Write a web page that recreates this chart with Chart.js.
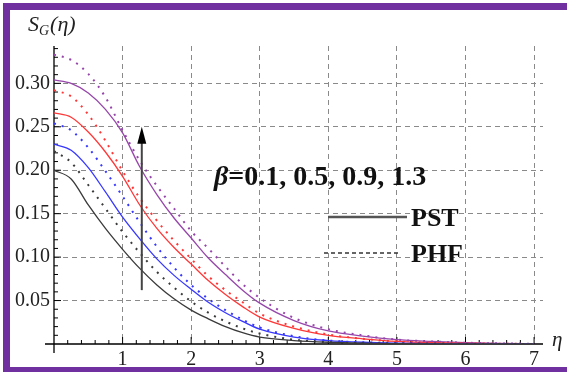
<!DOCTYPE html>
<html>
<head>
    <title>Entropy generation S_G(eta)</title>
    <style>
        html, body { margin: 0; padding: 0; background: #fff; }
        #chartContainer { width: 567px; height: 376px; position: relative; }
    </style>
    <script src="https://cdn.jsdelivr.net/npm/chart.js"></script>
</head>
<body>
    <div id="chartContainer"><canvas id="myChart"></canvas></div>

    <script>
        // eta values the curves were read at
        let eta = [0, 0.25, 0.5, 0.75, 1, 1.25, 1.5, 1.75, 2, 2.25, 2.5, 2.75, 3, 3.5, 4, 4.5, 5, 5.5, 6, 6.5, 7];

        // solid = PST, dotted = PHF, one pair per beta
        let pstBeta01 = [0.200, 0.190, 0.160, 0.133, 0.109, 0.087, 0.068, 0.052, 0.039, 0.029, 0.020, 0.013, 0.008, 0.004, 0.002, 0.001, 0.0005, 0.0002, 0.0001, 0, 0];
        let phfBeta01 = [0.222, 0.209, 0.183, 0.156, 0.129, 0.105, 0.083, 0.065, 0.049, 0.036, 0.026, 0.018, 0.012, 0.005, 0.002, 0.001, 0.0005, 0.0002, 0.0001, 0, 0];
        let pstBeta05 = [0.230, 0.223, 0.203, 0.175, 0.146, 0.121, 0.098, 0.079, 0.063, 0.048, 0.036, 0.026, 0.017, 0.008, 0.004, 0.002, 0.001, 0.0005, 0.0002, 0, 0];
        let phfBeta05 = [0.254, 0.246, 0.226, 0.199, 0.170, 0.140, 0.112, 0.088, 0.068, 0.052, 0.039, 0.028, 0.019, 0.009, 0.004, 0.002, 0.001, 0.0005, 0.0002, 0, 0];
        let pstBeta09 = [0.266, 0.261, 0.244, 0.221, 0.193, 0.160, 0.133, 0.111, 0.092, 0.073, 0.057, 0.043, 0.031, 0.018, 0.010, 0.006, 0.003, 0.0015, 0.0007, 0.0003, 0];
        let phfBeta09 = [0.292, 0.285, 0.264, 0.234, 0.199, 0.168, 0.142, 0.119, 0.098, 0.078, 0.062, 0.048, 0.035, 0.020, 0.011, 0.006, 0.003, 0.0015, 0.0007, 0.0003, 0];
        let pstBeta13 = [0.304, 0.300, 0.289, 0.270, 0.243, 0.204, 0.172, 0.145, 0.122, 0.099, 0.080, 0.062, 0.047, 0.027, 0.015, 0.009, 0.005, 0.003, 0.0015, 0.0007, 0.0003];
        let phfBeta13 = [0.333, 0.327, 0.311, 0.284, 0.246, 0.211, 0.182, 0.156, 0.130, 0.110, 0.089, 0.069, 0.053, 0.030, 0.017, 0.010, 0.005, 0.003, 0.0015, 0.0007, 0.0003];

        let xTickLabels = [1, 2, 3, 4, 5, 6, 7];
        let yTickLabels = [0.05, 0.10, 0.15, 0.20, 0.25, 0.30];

        // the arrow showing increasing beta
        let arrowEta = 1.28;
        let arrowFrom = 0.062;
        let arrowTo = 0.25;

        function toPoints(ys) {
            return eta.map((x, i) => ({ x: x, y: ys[i] }));
        }

        function curve(ys, color, dotted) {
            return {
                data: toPoints(ys),
                borderColor: color,
                borderWidth: dotted ? 2 : 1.3,
                borderDash: dotted ? [2, 6] : [],
                pointRadius: 0,
                fill: false,
                cubicInterpolationMode: 'monotone'
            };
        }

        let serif = '"Liberation Serif", "DejaVu Serif", serif';

        // frame, axes with Mathematica style ticks, arrow and notes
        const decorations = {
            id: 'decorations',
            beforeDraw(chart) {
                let ctx = chart.ctx;
                ctx.save();
                ctx.fillStyle = '#fff';
                ctx.fillRect(0, 0, chart.width, chart.height);
                ctx.fillStyle = '#7030a0';
                ctx.fillRect(3, 3, chart.width - 3, 7);
                ctx.fillRect(3, 3, 7, 369);
                ctx.fillRect(3, 367, chart.width - 3, 5);
                ctx.restore();
            },
            beforeDatasetsDraw(chart) {
                let ctx = chart.ctx;
                let xs = chart.scales.x, ys = chart.scales.y;
                let x0 = xs.getPixelForValue(0), y0 = ys.getPixelForValue(0);
                ctx.save();
                ctx.strokeStyle = '#000';
                ctx.lineWidth = 1.3;
                ctx.beginPath();
                ctx.moveTo(x0 - 9, y0); ctx.lineTo(xs.right, y0);
                ctx.moveTo(x0, ys.top); ctx.lineTo(x0, y0 + 9);
                ctx.stroke();
                ctx.lineWidth = 1;
                ctx.beginPath();
                for (let k = 1; k <= 34; k++) {
                    let py = ys.getPixelForValue(k / 100);
                    let len = k % 5 === 0 ? 7 : 4;
                    ctx.moveTo(x0, py); ctx.lineTo(x0 + len, py);
                }
                for (let k = 1; k <= 35; k++) {
                    let px = xs.getPixelForValue(k / 5);
                    let len = k % 5 === 0 ? 7 : 4;
                    ctx.moveTo(px, y0); ctx.lineTo(px, y0 - len);
                }
                ctx.stroke();
                ctx.restore();
            },
            afterDatasetsDraw(chart) {
                let ctx = chart.ctx;
                let xs = chart.scales.x, ys = chart.scales.y;
                ctx.save();

                // arrow
                let ax = xs.getPixelForValue(arrowEta);
                let aTop = ys.getPixelForValue(arrowTo);
                let aBot = ys.getPixelForValue(arrowFrom);
                ctx.strokeStyle = '#444';
                ctx.lineWidth = 2;
                ctx.beginPath();
                ctx.moveTo(ax, aBot); ctx.lineTo(ax, aTop + 12);
                ctx.stroke();
                ctx.fillStyle = '#000';
                ctx.beginPath();
                ctx.moveTo(ax, aTop);
                ctx.lineTo(ax - 4.5, aTop + 17);
                ctx.lineTo(ax + 4.5, aTop + 17);
                ctx.closePath();
                ctx.fill();

                // axis labels
                ctx.fillStyle = '#222';
                ctx.textBaseline = 'alphabetic';
                ctx.font = 'italic 22px ' + serif;
                ctx.fillText('S', 28, 31);
                let w = ctx.measureText('S').width;
                ctx.font = 'italic 14px ' + serif;
                ctx.fillText('G', 28 + w, 35);
                let wg = ctx.measureText('G').width;
                ctx.font = 'italic 22px ' + serif;
                ctx.fillText('(\u03b7)', 29 + w + wg, 31);
                ctx.font = 'italic 21px ' + serif;
                ctx.fillText('\u03b7', 552, 346);

                // beta note
                ctx.fillStyle = '#111';
                ctx.font = 'bold italic 28px ' + serif;
                ctx.fillText('\u03b2', 214, 185);
                let wb = ctx.measureText('\u03b2').width;
                ctx.font = 'bold 28px ' + serif;
                ctx.fillText('=0.1, 0.5, 0.9, 1.3', 214 + wb, 185);

                // legend
                ctx.strokeStyle = '#555';
                ctx.lineWidth = 2.5;
                ctx.beginPath();
                ctx.moveTo(328, 217); ctx.lineTo(407, 217);
                ctx.stroke();
                ctx.strokeStyle = '#333';
                ctx.lineWidth = 1.5;
                ctx.setLineDash([4, 3]);
                ctx.beginPath();
                ctx.moveTo(324, 253); ctx.lineTo(400, 253);
                ctx.stroke();
                ctx.setLineDash([]);
                ctx.font = 'bold 26px ' + serif;
                ctx.fillText('PST', 411, 226);
                ctx.fillText('PHF', 411, 262);
                ctx.restore();
            }
        };

        let ctx = document.getElementById('myChart').getContext('2d');
        let myChart = new Chart(ctx, {
            type: 'line',
            data: {
                datasets: [
                    curve(pstBeta01, '#3a3a3a', false),
                    curve(phfBeta01, '#3a3a3a', true),
                    curve(pstBeta05, 'rgb(55, 55, 255)', false),
                    curve(phfBeta05, 'rgb(55, 55, 255)', true),
                    curve(pstBeta09, 'rgb(255, 55, 55)', false),
                    curve(phfBeta09, 'rgb(255, 55, 55)', true),
                    curve(pstBeta13, 'rgb(150, 70, 170)', false),
                    curve(phfBeta13, 'rgb(150, 70, 170)', true)
                ]
            },
            options: {
                responsive: true,
                maintainAspectRatio: false,
                animation: false,
                layout: { padding: { left: 0, top: 46, right: 24, bottom: 0 } },
                plugins: {
                    legend: { display: false },
                    tooltip: { enabled: false }
                },
                scales: {
                    x: {
                        type: 'linear',
                        min: 0,
                        max: 7.13,
                        afterBuildTicks: s => { s.ticks = xTickLabels.map(v => ({ value: v })); },
                        afterFit: s => { s.height = 32; },
                        grid: { color: '#8a8a8a', lineWidth: 1, drawTicks: false },
                        border: { display: false, dash: [5, 4] },
                        ticks: {
                            padding: 4,
                            autoSkip: false,
                            maxRotation: 0,
                            color: '#222',
                            font: { family: serif, size: 20 },
                            callback: v => String(v)
                        }
                    },
                    y: {
                        type: 'linear',
                        min: 0,
                        max: 0.343,
                        afterBuildTicks: s => { s.ticks = yTickLabels.map(v => ({ value: v })); },
                        afterFit: s => { s.width = 54; },
                        grid: { color: '#8a8a8a', lineWidth: 1, drawTicks: false },
                        border: { display: false, dash: [5, 4] },
                        ticks: {
                            padding: 4,
                            color: '#222',
                            font: { family: serif, size: 20 },
                            callback: v => v.toFixed(2)
                        }
                    }
                }
            },
            plugins: [decorations]
        });
    </script>
</body>
</html>
